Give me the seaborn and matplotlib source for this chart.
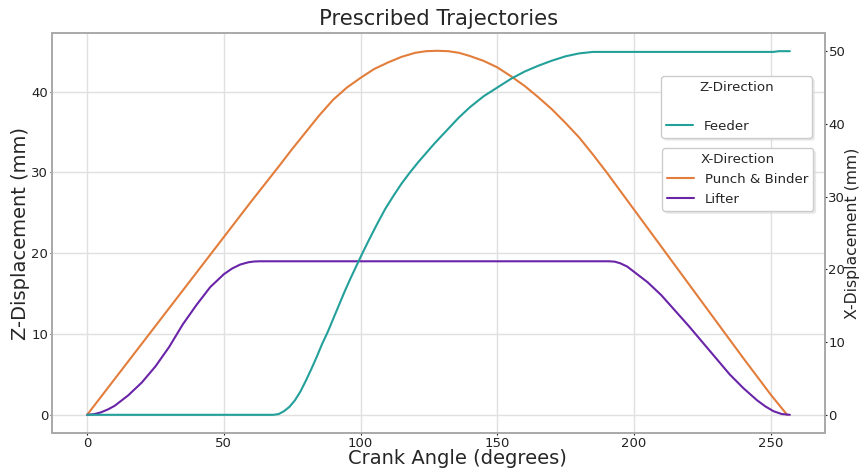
import numpy as np
import pandas as pd
import matplotlib
matplotlib.use("Agg")
import matplotlib.pyplot as plt
import seaborn as sns

# ---- data ----
punch_deg = [0, 10, 20, 30, 40, 50, 60, 70, 75, 80, 85, 90, 95, 100, 105, 110, 115, 120, 124, 128,
             132, 136, 140, 145, 150, 155, 160, 165, 170, 175, 180, 185, 190, 195, 200,
             210, 220, 230, 240, 250, 256]
punch_mm = [0, 4.4, 8.8, 13.2, 17.6, 22.0, 26.4, 30.7, 32.9, 35.0, 37.1, 39.0, 40.5, 41.7, 42.8, 43.6, 44.3, 44.8, 45.0, 45.05,
            45.0, 44.8, 44.4, 43.8, 43.0, 41.9, 40.7, 39.3, 37.8, 36.1, 34.3, 32.2, 30.0, 27.7, 25.4,
            20.8, 16.2, 11.6, 7.0, 2.5, 0.0]

lifter_deg = [0, 2.5, 5, 7.5, 10, 15, 20, 25, 30, 35, 40, 45, 50, 53, 56, 59, 61, 63,
              191, 193, 195, 197.5, 200, 205, 210, 215, 220, 225, 230, 235, 240, 245, 248, 251, 254, 257]
lifter_mm = [0, 0.08, 0.3, 0.65, 1.1, 2.4, 4.0, 6.0, 8.4, 11.2, 13.6, 15.8, 17.4, 18.1, 18.6, 18.88, 18.97, 19.0,
             19.0, 18.95, 18.75, 18.35, 17.7, 16.4, 14.8, 12.9, 11.0, 9.0, 7.0, 5.0, 3.3, 1.8, 1.05, 0.45, 0.1, 0.0]

feeder_deg = [0, 68, 70, 72, 74, 76, 78, 80, 82, 84, 86, 88, 90, 92, 94, 96, 98, 100,
              103, 106, 109, 112, 115, 118, 121, 124, 127, 130, 133, 136, 140, 145, 150,
              155, 160, 165, 170, 175, 180, 185, 251, 253, 257]
feeder_mm = [0, 0, 0.1, 0.5, 1.1, 2.0, 3.2, 4.7, 6.3, 8.0, 9.8, 11.4, 13.2, 15.0, 16.8, 18.5, 20.1, 21.7,
             24.0, 26.2, 28.3, 30.1, 31.8, 33.3, 34.7, 36.0, 37.3, 38.5, 39.7, 40.9, 42.3, 43.8, 45.0,
             46.2, 47.2, 48.0, 48.7, 49.3, 49.7, 49.9, 49.9, 50.0, 50.0]

title = "Prescribed Trajectories"
xlabel = "Crank Angle (degrees)"
ylabel_left = "Z-Displacement (mm)"
ylabel_right = "X-Displacement (mm)"

c_orange = "#E27D3B"
c_purple = "#6A24A8"
c_teal = "#23A09A"

sns.set_theme(style="whitegrid", rc={
    "axes.edgecolor": "#aaaaaa",
    "grid.color": "#e0e0e0",
    "xtick.bottom": True,
    "ytick.left": True,
    "xtick.major.size": 1.5,
    "ytick.major.size": 1.5,
    "xtick.major.pad": 1.5,
    "ytick.major.pad": 1.2,
    "xtick.color": "#222222",
    "ytick.color": "#222222",
    "xtick.major.width": 0.8,
    "ytick.major.width": 0.8,
})
plt.rcParams["font.family"] = ["DejaVu Sans"]

L, R, T, B = 52, 825, 33, 433
fig = plt.figure(figsize=(8.63, 4.70), dpi=100)
ax = fig.add_axes([L / 863, 1 - B / 470, (R - L) / 863, (B - T) / 470])

df_p = pd.DataFrame({"deg": punch_deg, "mm": punch_mm})
df_l = pd.DataFrame({"deg": lifter_deg, "mm": lifter_mm})
df_f = pd.DataFrame({"deg": feeder_deg, "mm": feeder_mm})

sns.lineplot(data=df_p, x="deg", y="mm", ax=ax, color=c_orange, lw=1.5, label="Punch & Binder", legend=False)
sns.lineplot(data=df_l, x="deg", y="mm", ax=ax, color=c_purple, lw=1.5, label="Lifter", legend=False)

ax2 = ax.twinx()
sns.lineplot(data=df_f, x="deg", y="mm", ax=ax2, color=c_teal, lw=1.5, label="Feeder", legend=False)
ax2.grid(False)
ax2.tick_params(axis="y", right=True, length=1.5, pad=1.0, width=0.8, labelsize=9.5, colors="#222222")
for s in ax2.spines.values():
    s.set_color("#aaaaaa")

ax.set_xlim(-12.85, 269.85)
ax.set_ylim(-2.25, 47.25)
ax2.set_ylim(-2.5, 52.5)
ax.set_xticks([0, 50, 100, 150, 200, 250])
ax.set_yticks([0, 10, 20, 30, 40])
ax2.set_yticks([0, 10, 20, 30, 40, 50])
ax.tick_params(labelsize=9.5)

ax.set_title(title, fontsize=15.2, pad=6)
ax.set_xlabel(xlabel, fontsize=14)
ax.xaxis.set_label_coords(0.524, -0.04)
ax.set_ylabel(ylabel_left, fontsize=14, labelpad=1)
ax2.set_ylabel(ylabel_right, fontsize=11.3)
ax2.yaxis.set_label_coords((845 - L) / (R - L), 0.5)

shadow = {"facecolor": "#d9d9d9", "edgecolor": "none", "alpha": 0.6}
h2, l2 = ax2.get_legend_handles_labels()
h1, l1 = ax.get_legend_handles_labels()
leg1 = ax2.legend(h2, l2, title="Z-Direction\n", loc="upper left", mode="expand",
                  bbox_to_anchor=(661 / 863, 1 - 76 / 470, 151 / 863, 0), bbox_transform=fig.transFigure,
                  borderaxespad=0, fontsize=9.6, title_fontsize=9.6, frameon=True,
                  edgecolor="#cccccc", framealpha=1, shadow=shadow)
leg1.get_title().set_linespacing(1.55)
ax2.add_artist(leg1)
leg2 = ax2.legend(h1, l1, title="X-Direction", loc="upper left",
                  bbox_to_anchor=(662 / 863, 1 - 148 / 470), bbox_transform=fig.transFigure,
                  borderaxespad=0, fontsize=9.6, title_fontsize=9.6, frameon=True,
                  edgecolor="#cccccc", framealpha=1, shadow=shadow)

fig.savefig("out.png", dpi=100)
